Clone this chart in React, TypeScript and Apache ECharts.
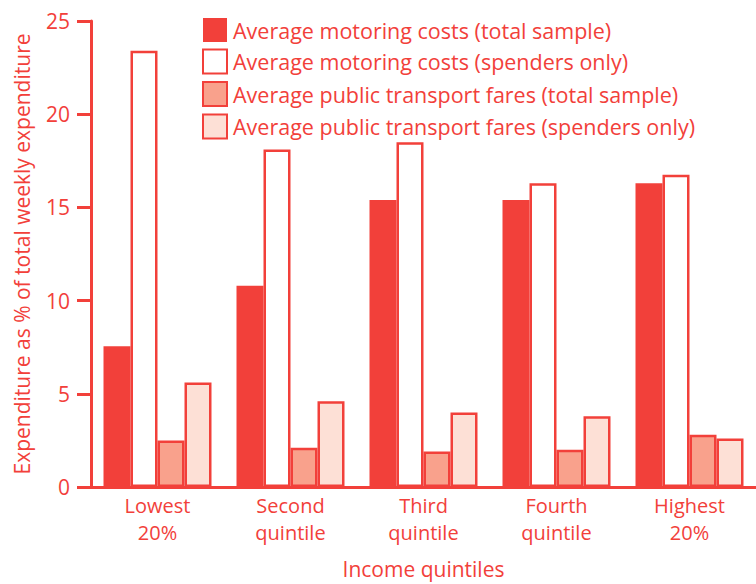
import React, { useEffect, useRef } from "react";
import * as echarts from "echarts";

const categories = ["Lowest\n20%", "Second\nquintile", "Third\nquintile", "Fourth\nquintile", "Highest\n20%"];
const motoringTotal = [7.55, 10.8, 15.4, 15.4, 16.3];
const motoringSpenders = [23.4, 18.1, 18.5, 16.3, 16.75];
const ptTotal = [2.5, 2.1, 1.9, 2.0, 2.8];
const ptSpenders = [5.6, 4.6, 4.0, 3.8, 2.6];
const yTicks = [0, 5, 10, 15, 20, 25];
const seriesNames = [
  "Average motoring costs (total sample)",
  "Average motoring costs (spenders only)",
  "Average public transport fares (total sample)",
  "Average public transport fares (spenders only)",
];

const RED = "#f2403a";
const FONT = "Open Sans";

export default function App() {
  const ref = useRef<HTMLDivElement>(null);
  useEffect(() => {
    const chart = echarts.init(ref.current!, null, { renderer: "svg" });
    const fills = [RED, "#ffffff", "#f9a18c", "#fde0d6"];
    const datas = [motoringTotal, motoringSpenders, ptTotal, ptSpenders];
    chart.setOption({
      animation: false,
      backgroundColor: "#ffffff",
      textStyle: { fontFamily: FONT, color: RED },
      legend: {
        orient: "vertical",
        left: 197,
        top: 13,
        icon: "rect",
        itemWidth: 24,
        itemHeight: 24,
        itemGap: 6.5,
        textStyle: {
          fontFamily: FONT,
          fontSize: 21.5,
          lineHeight: 24,
          color: RED,
          padding: [0, 0, 0, 1],
        },
        data: seriesNames,
      },
      grid: { left: 91, width: 676, top: 21, height: 470, containLabel: false },
      xAxis: {
        type: "category",
        data: categories,
        name: "Income quintiles",
        nameLocation: "middle",
        nameGap: 71,
        nameTextStyle: { fontFamily: FONT, fontSize: 21, color: RED },
        axisLine: { lineStyle: { color: RED, width: 3 } },
        axisTick: { show: false },
        axisLabel: { fontFamily: FONT, fontSize: 20, color: RED, lineHeight: 27, margin: 5 },
      },
      yAxis: {
        type: "value",
        min: yTicks[0],
        max: yTicks[yTicks.length - 1],
        interval: 5,
        name: "Expenditure as % of total weekly expenditure",
        nameLocation: "middle",
        nameGap: 59,
        nameRotate: 90,
        nameTextStyle: { fontFamily: FONT, fontSize: 21, color: RED },
        axisLine: { show: true, lineStyle: { color: RED, width: 3 } },
        axisTick: { show: true, inside: false, length: 14, lineStyle: { color: RED, width: 3 } },
        axisLabel: { fontFamily: FONT, fontSize: 21, color: RED, margin: 21 },
        splitLine: { show: false },
      },
      series: datas.map((d, i) => ({
        name: seriesNames[i],
        type: "bar",
        data: d,
        barWidth: 27,
        barGap: "0%",
        itemStyle: {
          color: fills[i],
          borderColor: RED,
          borderWidth: i === 0 ? 0 : 2.5,
        },
      })),
    });
    return () => chart.dispose();
  }, []);
  return <div ref={ref} style={{ width: 756, height: 584, position: "absolute", left: 0, top: 0 }} />;
}
